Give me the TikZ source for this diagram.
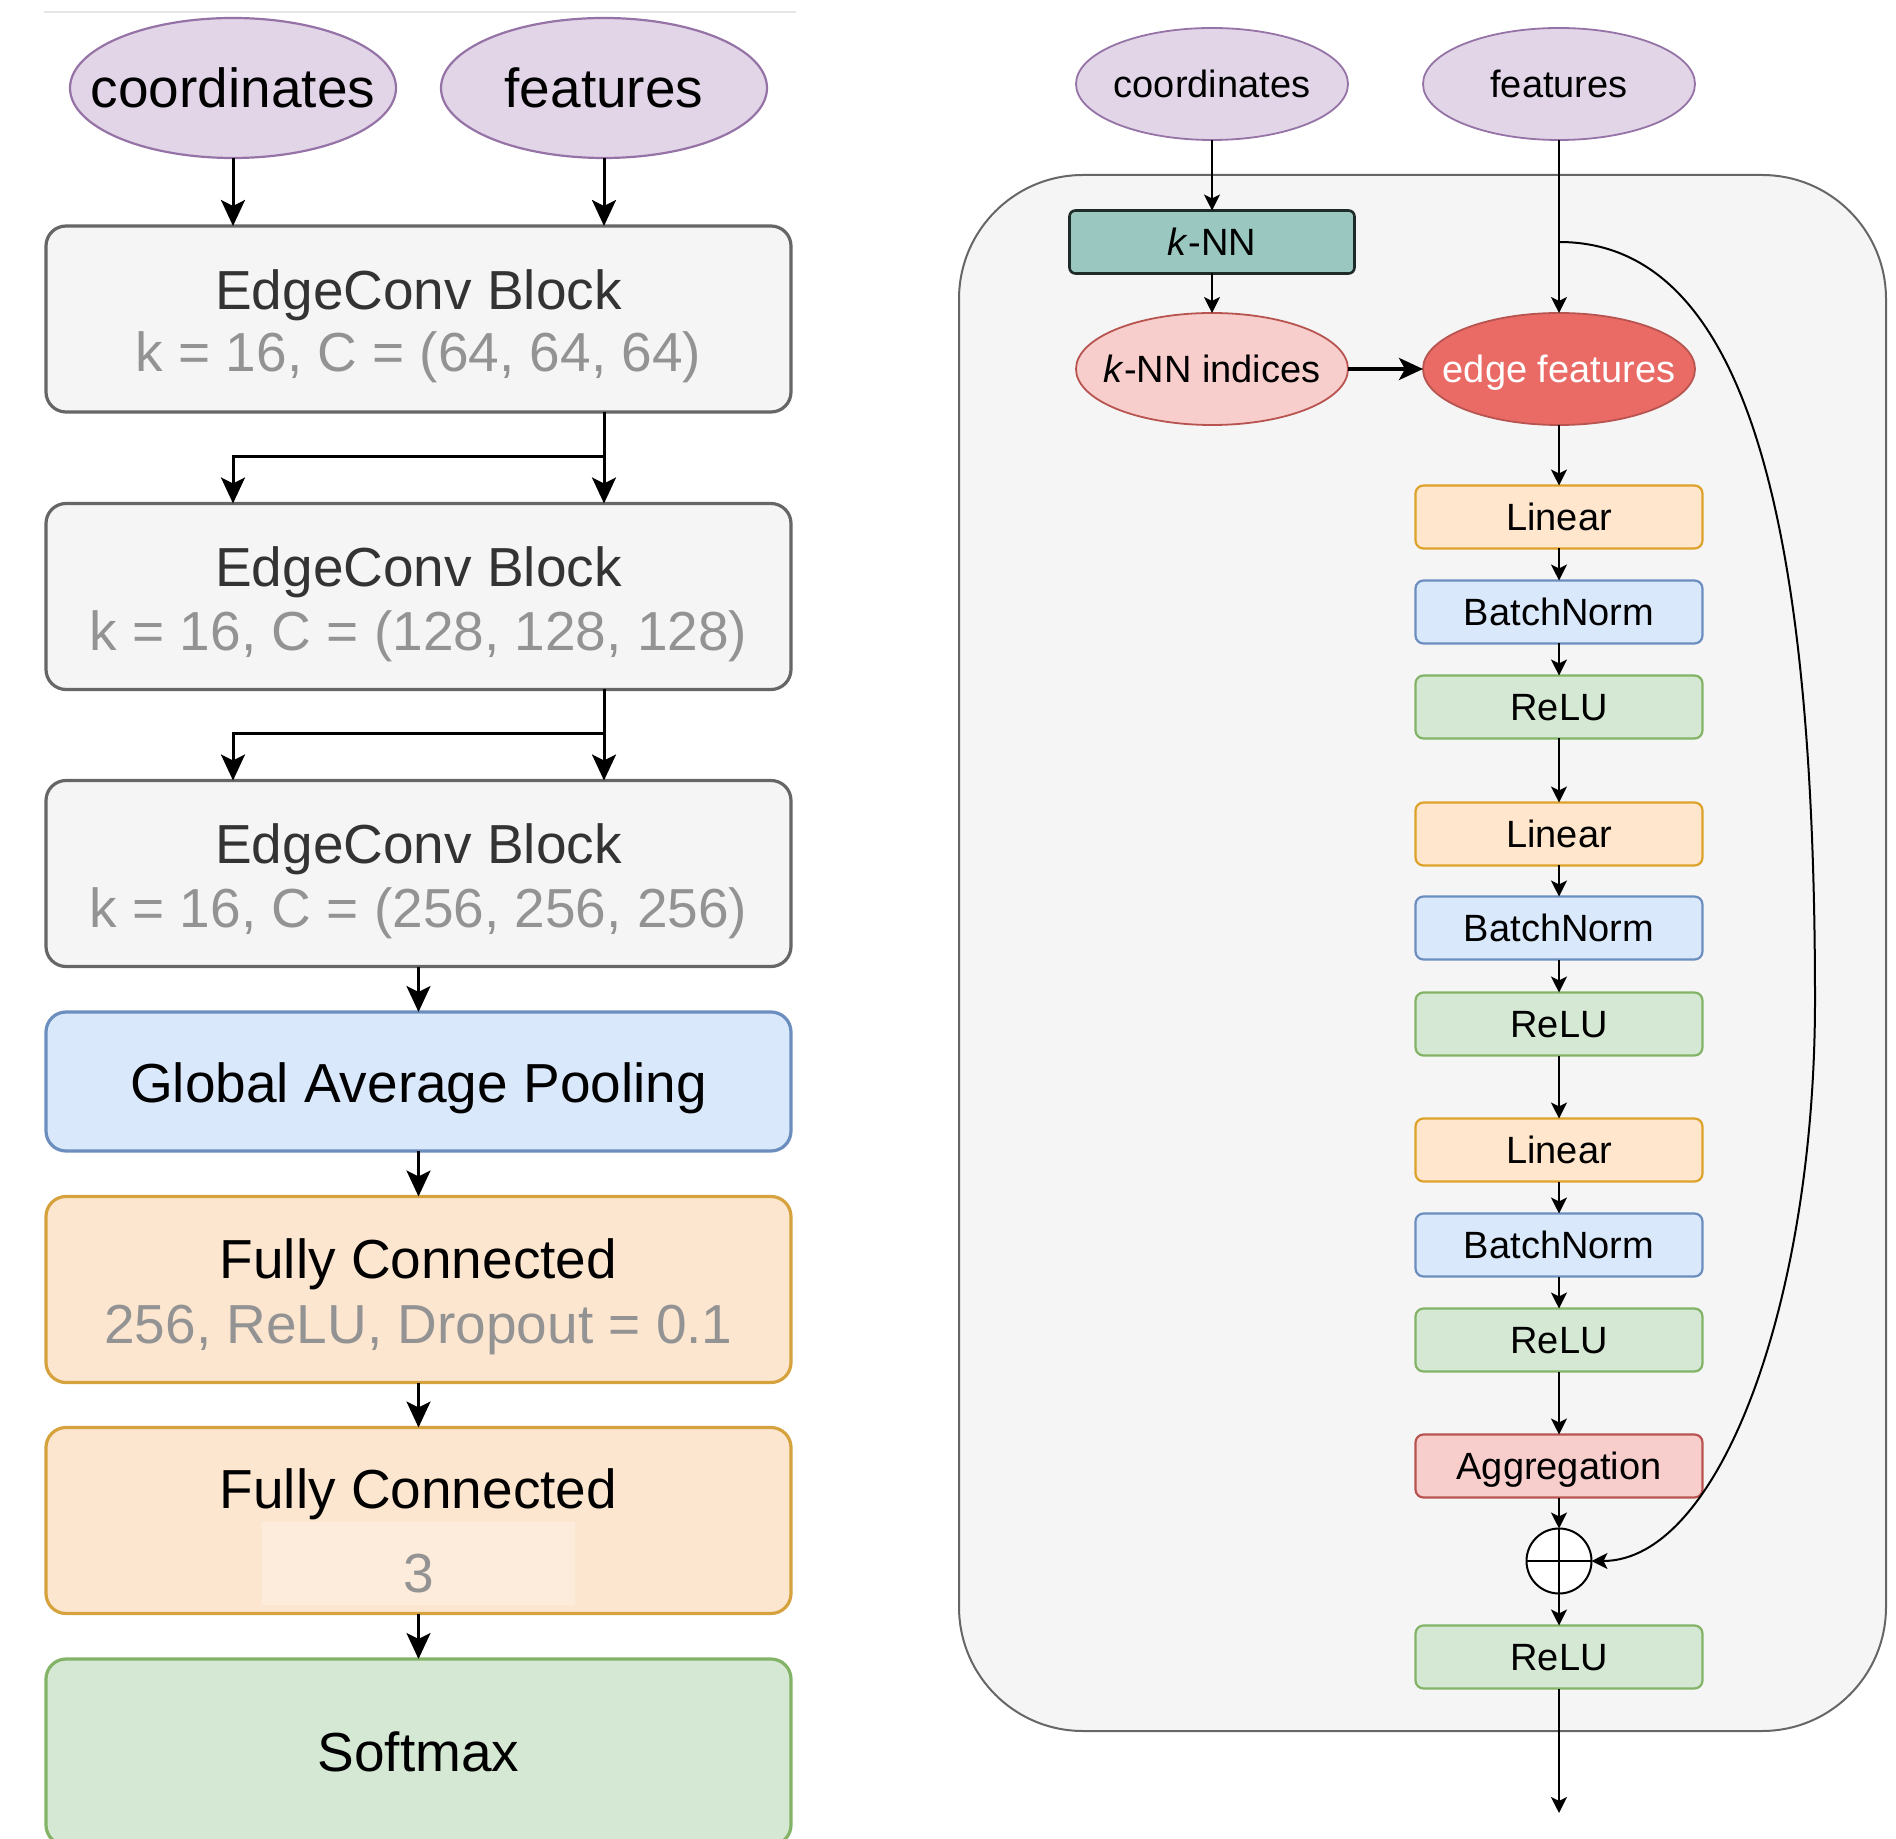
\documentclass[tikz,border=0pt]{standalone}
\usepackage{fontspec}
\setmainfont{Liberation Sans}
\usetikzlibrary{arrows.meta,shapes.geometric}
\definecolor{purpleF}{HTML}{E1D5E7}
\definecolor{purpleD}{HTML}{9673A6}
\definecolor{grayF}{HTML}{F5F5F5}
\definecolor{grayD}{HTML}{666666}
\definecolor{blueF}{HTML}{DAE8FC}
\definecolor{blueD}{HTML}{6C8EBF}
\definecolor{orangeF}{HTML}{FFE6CC}
\definecolor{orangeD}{HTML}{DDA22A}
\definecolor{lorangeF}{HTML}{FCE6CF}
\definecolor{lorangeD}{HTML}{D6A23E}
\definecolor{greenF}{HTML}{D5E8D4}
\definecolor{greenD}{HTML}{82B366}
\definecolor{redF}{HTML}{F8CECC}
\definecolor{redD}{HTML}{B85450}
\definecolor{edgeF}{HTML}{EA6B66}
\definecolor{knnF}{HTML}{9AC7BF}
\definecolor{knnD}{HTML}{1E2B28}
\definecolor{subtxt}{HTML}{939393}
\definecolor{darktxt}{HTML}{333333}
\definecolor{patchF}{HTML}{FDEBDB}
\definecolor{rulecol}{HTML}{E6E6E6}
\begin{document}
\begin{tikzpicture}[x=0.5pt,y=-0.5pt,
  every node/.style={inner sep=0pt, outer sep=0pt},
  larr/.style={-{Stealth[length=13pt,width=12pt,inset=3pt]}, line width=1.5pt},
  rarr/.style={-{Stealth[length=8pt,width=8pt,inset=2pt]}, line width=1pt},
  lbox/.style={draw, rounded corners=10pt, line width=1.6pt, minimum width=372.5pt, minimum height=93pt},
  lfont/.style={font=\fontsize{27.5}{33}\selectfont, text height=19.7pt, text depth=0pt},
  lell/.style={ellipse, draw=purpleD, fill=purpleF, line width=1.1pt, minimum width=163pt, minimum height=70pt, lfont},
  rfont/.style={font=\fontsize{19}{23}\selectfont, text height=13.6pt, text depth=0pt},
  rell/.style={ellipse, line width=0.9pt, minimum width=136pt, minimum height=56pt, rfont},
  rbox/.style={draw, rounded corners=4pt, line width=1.1pt, minimum width=143.5pt, minimum height=31.5pt, rfont},
]
\useasboundingbox (0,0) rectangle (1896,1839);
\clip (0,0) rectangle (1896,1839);

% ---------------- left column ----------------
\draw[rulecol, line width=0.8pt] (44,12) -- (796,12);
\node[lell] (coordL) at (233,88) {\makebox[0pt]{coordinates}};
\node[lell] (featL) at (604,88) {\makebox[0pt]{features}};

\node[lbox, draw=grayD, fill=grayF] (ec1) at (418.5,319) {};
\node[lbox, draw=grayD, fill=grayF] (ec2) at (418.5,596.5) {};
\node[lbox, draw=grayD, fill=grayF] (ec3) at (418.5,873.5) {};
\node[lbox, draw=blueD, fill=blueF, minimum height=69.5pt] (gap) at (418.5,1081.5) {};
\node[lbox, draw=lorangeD, fill=lorangeF] (fc1) at (418.5,1289.5) {};
\node[lbox, draw=lorangeD, fill=lorangeF] (fc2) at (418.5,1520.5) {};
\node[lbox, draw=greenD, fill=greenF] (soft) at (418.5,1752) {};
\fill[patchF] (262,1522) rectangle (575,1605);

\node[lfont, text=darktxt] (ec1a) at (418.5,290) {EdgeConv Block};
\node[lfont, text=subtxt] (ec1b) at (418.5,352) {k = 16, C = (64, 64, 64)};
\node[lfont, text=darktxt] (ec2a) at (418.5,567) {EdgeConv Block};
\node[lfont, text=subtxt] (ec2b) at (418.5,631) {k = 16, C = (128, 128, 128)};
\node[lfont, text=darktxt] (ec3a) at (418.5,844) {EdgeConv Block};
\node[lfont, text=subtxt] (ec3b) at (418.5,908) {k = 16, C = (256, 256, 256)};
\node[lfont] (gapt) at (418.5,1083) {Global Average Pooling};
\node[lfont] (fc1a) at (418.5,1259) {Fully Connected};
\node[lfont, text=subtxt] (fc1b) at (418.5,1324) {256, ReLU, Dropout = 0.1};
\node[lfont] (fc2a) at (418.5,1489) {Fully Connected};
\node[lfont, text=subtxt] (fc2b) at (418.5,1573) {3};
\node[lfont] (softt) at (418.5,1752) {Softmax};

\draw[larr] (coordL.south) -- (coordL.south |- ec1.north);
\draw[larr] (featL.south) -- (featL.south |- ec1.north);
\coordinate (s1) at (604,457);
\coordinate (s2) at (604,734);
\draw[larr] (featL.south |- ec1.south) -- (featL.south |- ec2.north);
\draw[larr] (s1) -| (coordL.south |- ec2.north);
\draw[larr] (featL.south |- ec2.south) -- (featL.south |- ec3.north);
\draw[larr] (s2) -| (coordL.south |- ec3.north);
\draw[larr] (ec3.south) -- (gap.north);
\draw[larr] (gap.south) -- (fc1.north);
\draw[larr] (fc1.south) -- (fc2.north);
\draw[larr] (fc2.south) -- (soft.north);

% ---------------- right column ----------------
\node[draw=grayD, fill=grayF, line width=1pt, rounded corners=62pt,
      minimum width=463.5pt, minimum height=778pt] (cont) at (1422.5,953) {};

\node[rell, draw=purpleD, fill=purpleF] (coordR) at (1212,84) {\makebox[0pt]{coordinates}};
\node[rell, draw=purpleD, fill=purpleF] (featR) at (1559,84) {\makebox[0pt]{features}};
\node[rbox, draw=knnD, fill=knnF, rounded corners=3pt, line width=1.3pt, minimum width=142.5pt] (knn) at (1212,242) {\textit{k}-NN};
\node[rell, draw=redD, fill=redF] (idx) at (1212,369) {\makebox[0pt]{\textit{k}-NN indices}};
\node[rell, draw=redD, fill=edgeF, text=white] (edge) at (1559,369) {\makebox[0pt]{edge features}};

\node[rbox, draw=orangeD, fill=orangeF] (lin1) at (1559,517) {Linear};
\node[rbox, draw=blueD, fill=blueF] (bn1) at (1559,612) {BatchNorm};
\node[rbox, draw=greenD, fill=greenF] (re1) at (1559,707) {ReLU};
\node[rbox, draw=orangeD, fill=orangeF] (lin2) at (1559,834) {Linear};
\node[rbox, draw=blueD, fill=blueF] (bn2) at (1559,928) {BatchNorm};
\node[rbox, draw=greenD, fill=greenF] (re2) at (1559,1024) {ReLU};
\node[rbox, draw=orangeD, fill=orangeF] (lin3) at (1559,1150) {Linear};
\node[rbox, draw=blueD, fill=blueF] (bn3) at (1559,1245) {BatchNorm};
\node[rbox, draw=greenD, fill=greenF] (re3) at (1559,1340) {ReLU};
\node[rbox, draw=redD, fill=redF] (agg) at (1559,1466) {Aggregation};
\node[circle, draw=black, fill=white, line width=1pt, minimum size=32.5pt] (plus) at (1559,1561) {};
\draw[line width=1pt] (plus.north) -- (plus.south) (plus.west) -- (plus.east);
\node[rbox, draw=greenD, fill=greenF] (re4) at (1559,1657) {ReLU};
\coordinate (out) at (1559,1813);

\draw[rarr] (coordR.south) -- (knn.north);
\draw[rarr] (knn.south) -- (idx.north);
\draw[rarr] (featR.south) -- (edge.north);
\draw[line width=1.9pt, -{Stealth[length=12pt,width=11pt,inset=3pt]}] (idx.east) -- (edge.west);
\draw[rarr] (edge.south) -- (lin1.north);
\draw[rarr] (lin1.south) -- (bn1.north);
\draw[rarr] (bn1.south) -- (re1.north);
\draw[rarr] (re1.south) -- (lin2.north);
\draw[rarr] (lin2.south) -- (bn2.north);
\draw[rarr] (bn2.south) -- (re2.north);
\draw[rarr] (re2.south) -- (lin3.north);
\draw[rarr] (lin3.south) -- (bn3.north);
\draw[rarr] (bn3.south) -- (re3.north);
\draw[rarr] (re3.south) -- (agg.north);
\draw[rarr] (agg.south) -- (plus.north);
\draw[rarr] (plus.south) -- (re4.north);
\draw[rarr] (re4.south) -- (out);
\coordinate (skip) at (featR.south |- knn);
\draw[rarr] (skip) .. controls (1740,242) and (1815,500) .. (1815,1000)
  .. controls (1815,1300) and (1720,1561) .. (plus.east);
\end{tikzpicture}
\end{document}
